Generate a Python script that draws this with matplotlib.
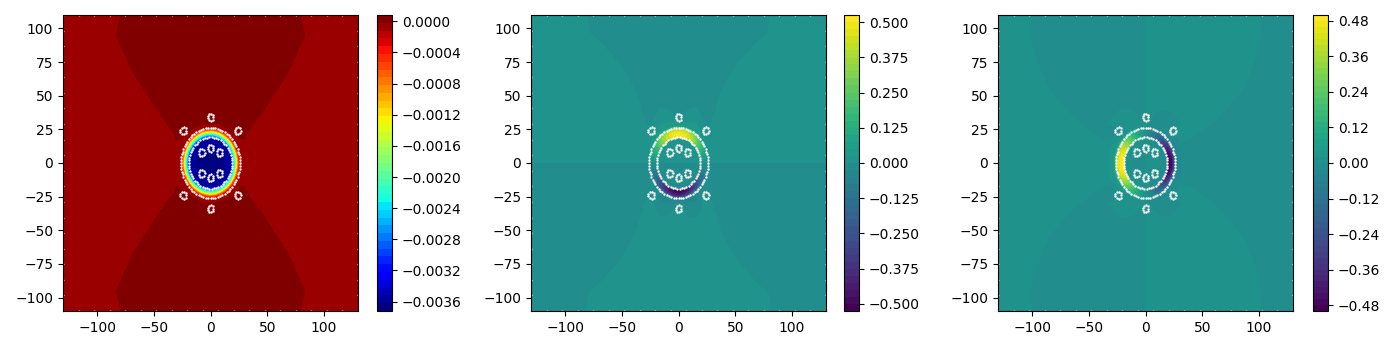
"""Three mesh field panels with contour bands and white node dots."""

import numpy as np
import matplotlib
matplotlib.use("Agg")
import matplotlib.pyplot as plt

# angles (deg) and radii of the table around the annulus, first quadrant
angles = [0, 10, 20, 30, 40, 50, 60, 70, 80, 90]
radii = [18.5, 19, 20.5, 22, 23.5, 25, 26, 27.5]

# left panel depends on radius only
p_radii = [0, 8, 14, 18.5, 19, 20.5, 22, 23.5, 25, 26, 27.5]
p_values = [-0.00372, -0.00368, -0.0036, -0.00352, -0.0034, -0.0027, -0.002,
            -0.0013, -0.0006, -0.0003, -0.00007]

# middle panel, rows follow radii, columns follow angles
v_table = [
    [0.0, 0.005, 0.01, 0.01, 0.01, 0.015, 0.015, 0.02, 0.02, 0.02],
    [0.0, 0.03, 0.08, 0.14, 0.2, 0.27, 0.34, 0.4, 0.44, 0.45],
    [0.0, 0.05, 0.11, 0.17, 0.25, 0.33, 0.41, 0.47, 0.5, 0.51],
    [0.0, 0.05, 0.11, 0.17, 0.25, 0.33, 0.4, 0.46, 0.49, 0.5],
    [0.0, 0.045, 0.1, 0.16, 0.23, 0.3, 0.37, 0.42, 0.45, 0.46],
    [0.0, 0.035, 0.075, 0.12, 0.17, 0.22, 0.27, 0.32, 0.35, 0.36],
    [0.0, 0.02, 0.045, 0.07, 0.1, 0.13, 0.16, 0.19, 0.21, 0.22],
    [0.0, 0.005, 0.01, 0.015, 0.02, 0.03, 0.035, 0.04, 0.04, 0.04],
]

# right panel, same layout
u_table = [
    [-0.02, -0.02, -0.02, -0.02, -0.015, -0.015, -0.01, -0.01, -0.005, 0.0],
    [-0.45, -0.44, -0.4, -0.34, -0.27, -0.2, -0.14, -0.08, -0.03, 0.0],
    [-0.5, -0.49, -0.46, -0.41, -0.33, -0.25, -0.17, -0.11, -0.05, 0.0],
    [-0.49, -0.48, -0.45, -0.4, -0.33, -0.25, -0.17, -0.11, -0.05, 0.0],
    [-0.46, -0.45, -0.42, -0.37, -0.3, -0.23, -0.16, -0.1, -0.045, 0.0],
    [-0.36, -0.35, -0.32, -0.27, -0.22, -0.17, -0.12, -0.075, -0.035, 0.0],
    [-0.22, -0.21, -0.19, -0.16, -0.13, -0.1, -0.07, -0.045, -0.02, 0.0],
    [-0.04, -0.04, -0.04, -0.035, -0.03, -0.02, -0.015, -0.01, -0.005, 0.0],
]

# far field nodes in the first quadrant, either side of each band edge
p_hi_x = [0, 40, 75, 79, 71, 64, 51, 40, 28, 0, 10, 16, 22, 0, 0, 25, 30, 55]
p_hi_y = [110, 110, 110, 95, 80, 67, 50, 36, 23, 31, 31, 28, 27, 70, 45, 50, 80, 95]
p_lo_x = [83, 87, 79, 72, 59, 48, 37, 130, 130, 130, 105, 100, 60, 40, 90, 32]
p_lo_y = [110, 95, 80, 67, 50, 36, 23, 110, 50, 0, 110, 60, 25, 0, 0, 12]

v_neg_x = [0, 40, 75, 73, 58, 46, 33, 29, 0, 0, 0, 30, 24, 15, 6, 23, 24, 24]
v_neg_y = [110, 110, 110, 97, 84, 73, 53, 43, 36, 70, 50, 80, 60, 45, 43, 37, 30, 44]
v_pos_x = [87, 130, 85, 68, 57, 43, 39, 37, 33, 130, 130, 90, 50, 30,
           70, 100, 40, 15, 8, 19]
v_pos_y = [110, 110, 97, 84, 73, 53, 43, 32, 27, 60, 3, 3, 3, 3,
           50, 80, 15, 37, 33, 32]

u_pos_x = [3, 50, 93, 95, 97, 91, 79, 59, 42, 28, 3, 3, 50, 30, 70, 19, 10, 27, 3]
u_pos_y = [110, 110, 110, 103, 96, 79, 56, 37, 26, 22, 45, 80, 60, 50, 90, 44, 43, 42, 38]
u_neg_x = [107, 130, 108, 103, 91, 67, 50, 34, 130, 130, 90, 19, 12, 24, 60]
u_neg_y = [110, 110, 96, 79, 52, 29, 18, 10, 50, 0, 0, 36, 34, 32, 8]

# mesh holes and rings
hole_x = [0, 24, 24, 0, -24, -24, 0, 7.8, 7.8, 0, -7.8, -7.8]
hole_y = [34, 24, -24, -34, -24, 24, 11, 7.8, -7.8, -11, -7.8, 7.8]
hole_r = 2.6
hole_n = 9
ring_r = [26, 19]
ring_n = [76, 58]

x_ticks = [-100, -50, 0, 50, 100]
y_ticks = [-100, -75, -50, -25, 0, 25, 50, 75, 100]
p_ticks = [0.0, -0.0004, -0.0008, -0.0012, -0.0016, -0.002, -0.0024, -0.0028, -0.0032, -0.0036]
v_ticks = [-0.5, -0.375, -0.25, -0.125, 0.0, 0.125, 0.25, 0.375, 0.5]
u_ticks = [-0.48, -0.36, -0.24, -0.12, 0.0, 0.12, 0.24, 0.36, 0.48]


def ring_nodes(rad, ang):
    a = np.radians(ang)
    return rad * np.cos(a), rad * np.sin(a)


def mirrored(x, y, z, sign_x, sign_y):
    """Copy first quadrant nodes to the other three and drop duplicates."""
    nodes = {}
    for sx, sy, f in [(1, 1, 1), (-1, 1, sign_x), (1, -1, sign_y), (-1, -1, sign_x * sign_y)]:
        for a, b, c in zip(x, y, z):
            nodes.setdefault((round(sx * a, 6), round(sy * b, 6)), f * c)
    keys = list(nodes)
    return [k[0] for k in keys], [k[1] for k in keys], [nodes[k] for k in keys]


def table_nodes(table):
    x, y, z = [], [], []
    for i, rad in enumerate(radii):
        for j, ang in enumerate(angles):
            a, b = ring_nodes(rad, ang)
            x.append(a)
            y.append(b)
            z.append(table[i][j])
    return x, y, z


def p_field():
    x, y, z = [], [], []
    for rad, val in zip(p_radii, p_values):
        for ang in angles:
            a, b = ring_nodes(rad, ang)
            x.append(a)
            y.append(b)
            z.append(val)
    x += p_hi_x + p_lo_x
    y += p_hi_y + p_lo_y
    z += [0.00003] * len(p_hi_x) + [-0.00007] * len(p_lo_x)
    return mirrored(x, y, z, 1, 1)


def v_field():
    x, y, z = table_nodes(v_table)
    x += v_neg_x + v_pos_x + [7, 0, 12, 0]
    y += v_neg_y + v_pos_y + [7, 12, 2, 2]
    z += [-0.0125] * len(v_neg_x) + [0.0125] * len(v_pos_x) + [0.005] * 4
    return mirrored(x, y, z, 1, -1)


def u_field():
    x, y, z = table_nodes(u_table)
    x += u_pos_x + u_neg_x + [7, 12, 2, 2]
    y += u_pos_y + u_neg_y + [7, 0, 12, 0]
    z += [0.01] * len(u_pos_x) + [-0.01] * len(u_neg_x) + [0.005] * 4
    return mirrored(x, y, z, -1, 1)


def draw_dots(ax):
    # outer box nodes
    bx = np.linspace(-130, 130, 20)
    by = np.linspace(-110, 110, 20)
    ax.scatter(bx, np.full(20, 110), s=2, c="white", linewidths=0, zorder=2)
    ax.scatter(bx, np.full(20, -110), s=2, c="white", linewidths=0, zorder=2)
    ax.scatter(np.full(20, -130), by, s=2, c="white", linewidths=0, zorder=2)
    ax.scatter(np.full(20, 130), by, s=2, c="white", linewidths=0, zorder=2)
    # the two rings
    for r, n in zip(ring_r, ring_n):
        t = np.linspace(0, 360, n, endpoint=False)
        a, b = ring_nodes(r, t)
        ax.scatter(a, b, s=3, c="white", linewidths=0, zorder=3)
    # small holes
    t = np.linspace(0, 360, hole_n, endpoint=False)
    for cx, cy in zip(hole_x, hole_y):
        a, b = ring_nodes(hole_r, t)
        ax.scatter(cx + a, cy + b, s=3, c="white", linewidths=0, zorder=3)


panels = [
    (p_field(), np.linspace(-0.00372, 0.00008, 39), "jet", p_ticks, 63, 377),
    (v_field(), np.linspace(-0.525, 0.525, 43), "viridis", v_ticks, 531, 844),
    (u_field(), np.linspace(-0.5, 0.5, 51), "viridis", u_ticks, 998, 1313),
]

fig = plt.figure(figsize=(14, 3.5), dpi=100)

for (x, y, z), levels, cmap, ticks, left, bar_left in panels:
    step = levels[1] - levels[0]
    ax = fig.add_axes([left / 1400, 39 / 350, 295 / 1400, 296 / 350])
    cs = ax.tricontourf(x, y, z, levels=levels, cmap=cmap,
                        vmin=levels[0] + step / 2, vmax=levels[-1] - step / 2)
    draw_dots(ax)
    ax.set_xlim(-130, 130)
    ax.set_ylim(-110, 110)
    ax.set_xticks(x_ticks)
    ax.set_yticks(y_ticks)
    cax = fig.add_axes([bar_left / 1400, 39 / 350, 15 / 1400, 296 / 350])
    cb = fig.colorbar(cs, cax=cax)
    cb.set_ticks(ticks)

plt.savefig("out.png", dpi=100)
